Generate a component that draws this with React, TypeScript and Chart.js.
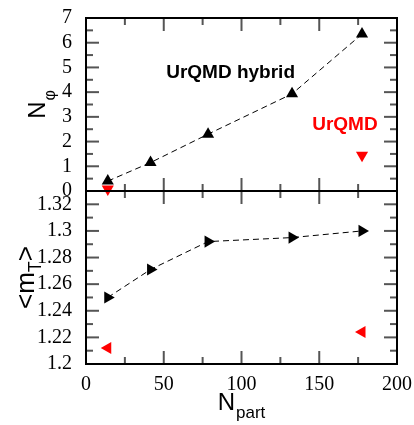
import { useEffect, useRef } from "react";
import { Chart, registerables } from "chart.js";

Chart.register(...registerables);

// ---- data ----
const npartHybrid = [14, 41.5, 78.5, 132.5, 177.5];
const nphiHybrid = [0.4, 1.15, 2.3, 3.93, 6.35];
const npartUrqmd = [14, 177.5];
const nphiUrqmd = [0.08, 1.45];
const mtHybrid = [1.25, 1.271, 1.292, 1.295, 1.3];
const mtUrqmd = [1.212, 1.224];

const xMajor = [0, 50, 100, 150, 200];
const xMinor = [25, 75, 125, 175];
const yTopMajor = [0, 1, 2, 3, 4, 5, 6, 7];
const yTopMinor = [0.5, 1.5, 2.5, 3.5, 4.5, 5.5, 6.5];
const yBotMajor = [1.2, 1.22, 1.24, 1.26, 1.28, 1.3, 1.32];
const yBotMinor = [1.21, 1.23, 1.25, 1.27, 1.29, 1.31];

const labelHybrid = "UrQMD hybrid";
const labelUrqmd = "UrQMD";

const SERIF = "'Liberation Serif', 'DejaVu Serif', serif";
const SANS = "'Liberation Sans', Arial, sans-serif";

const toXY = (xs: number[], ys: number[]) => xs.map((x, i) => ({ x, y: ys[i] }));

const framePlugin = {
  id: "frame",
  afterDatasetsDraw(chart: any) {
    const ctx: CanvasRenderingContext2D = chart.ctx;
    const sx = chart.scales.x;
    const yt = chart.scales.yTop;
    const yb = chart.scales.yBot;
    const { left: L, right: R, top: T, bottom: B } = chart.chartArea;
    const M = yt.getPixelForValue(0);
    ctx.save();
    ctx.strokeStyle = "#555";
    ctx.lineWidth = 2;
    const vt = (px: number, y0: number, dir: number, len: number) => {
      ctx.beginPath();
      ctx.moveTo(px, y0);
      ctx.lineTo(px, y0 + dir * len);
      ctx.stroke();
    };
    const ht = (py: number, x0: number, dir: number, len: number) => {
      ctx.beginPath();
      ctx.moveTo(x0, py);
      ctx.lineTo(x0 + dir * len, py);
      ctx.stroke();
    };
    const edges: [number, number][] = [
      [T, 1],
      [M, -1],
      [M, 1],
      [B, -1],
    ];
    for (const [e, d] of edges) {
      xMajor.forEach((v) => vt(sx.getPixelForValue(v), e, d, 13));
      xMinor.forEach((v) => vt(sx.getPixelForValue(v), e, d, 7));
    }
    yTopMajor.forEach((v) => {
      const p = yt.getPixelForValue(v);
      ht(p, L, 1, 13);
      ht(p, R, -1, 13);
    });
    yTopMinor.forEach((v) => {
      const p = yt.getPixelForValue(v);
      ht(p, L, 1, 7);
      ht(p, R, -1, 7);
    });
    yBotMajor.forEach((v) => {
      const p = yb.getPixelForValue(v);
      ht(p, L, 1, 13);
      ht(p, R, -1, 13);
    });
    yBotMinor.forEach((v) => {
      const p = yb.getPixelForValue(v);
      ht(p, L, 1, 7);
      ht(p, R, -1, 7);
    });

    // frame
    ctx.strokeStyle = "#000";
    ctx.lineWidth = 2;
    ctx.strokeRect(L, T, R - L, B - T);
    ctx.beginPath();
    ctx.moveTo(L, M);
    ctx.lineTo(R, M);
    ctx.stroke();

    // annotations
    ctx.font = `bold 19px ${SANS}`;
    ctx.textAlign = "center";
    ctx.textBaseline = "alphabetic";
    ctx.fillStyle = "#000";
    ctx.fillText(labelHybrid, sx.getPixelForValue(93), yt.getPixelForValue(4.56));
    ctx.fillStyle = "#ff0000";
    ctx.fillText(labelUrqmd, sx.getPixelForValue(166.5), yt.getPixelForValue(2.46));

    // titles
    ctx.fillStyle = "#000";
    ctx.textAlign = "left";
    const big = `24px ${SANS}`;
    const small = `17px ${SANS}`;
    // N_part
    ctx.font = big;
    const wN = ctx.measureText("N").width;
    ctx.font = small;
    const wPart = ctx.measureText("part").width;
    const cx = (L + R) / 2;
    let x0 = cx - (wN + 1 + wPart) / 2;
    ctx.font = big;
    ctx.fillText("N", x0, 410);
    ctx.font = small;
    ctx.fillText("part", x0 + wN + 1, 418);

    // N_phi (rotated)
    ctx.save();
    ctx.translate(45, (T + M) / 2);
    ctx.rotate(-Math.PI / 2);
    ctx.font = `16px ${SANS}`;
    const wPhi = ctx.measureText("\u03c6").width;
    ctx.font = big;
    const wN2 = ctx.measureText("N").width;
    let s = -(wN2 + 1 + wPhi) / 2;
    ctx.fillText("N", s, 0);
    ctx.font = `16px ${SANS}`;
    ctx.fillText("\u03c6", s + wN2 + 1, 10);
    ctx.restore();

    // <m_T>
    ctx.save();
    ctx.translate(34, (M + B) / 2);
    ctx.rotate(-Math.PI / 2);
    const f1 = `26px ${SANS}`;
    const f2 = `18px ${SANS}`;
    ctx.font = f1;
    const w1 = ctx.measureText("<m").width;
    const w3 = ctx.measureText(">").width;
    ctx.font = f2;
    const w2 = ctx.measureText("T").width;
    s = -(w1 + w2 + w3) / 2;
    ctx.font = f1;
    ctx.fillText("<m", s, 0);
    ctx.font = f2;
    ctx.fillText("T", s + w1, 7);
    ctx.font = f1;
    ctx.fillText(">", s + w1 + w2, 0);
    ctx.restore();

    ctx.restore();
  },
};

export default function App() {
  const ref = useRef<HTMLCanvasElement | null>(null);
  useEffect(() => {
    if (!ref.current) return;
    const pt = (rot: number, color: string) => ({
      pointStyle: "triangle" as const,
      rotation: rot,
      pointRadius: 7,
      pointHoverRadius: 7,
      pointBackgroundColor: color,
      pointBorderColor: color,
      pointBorderWidth: 0,
    });
    const chart = new Chart(ref.current, {
      type: "scatter",
      data: {
        datasets: [
          {
            label: "hybrid mT",
            data: toXY(npartHybrid, mtHybrid),
            yAxisID: "yBot",
            showLine: true,
            borderColor: "#000",
            borderWidth: 1,
            borderDash: [6, 4],
            clip: false as any,
            ...pt(90, "#000"),
          },
          {
            label: "urqmd mT",
            data: toXY(npartUrqmd, mtUrqmd),
            yAxisID: "yBot",
            showLine: false,
            clip: false as any,
            ...pt(270, "#ff0000"),
          },
          {
            label: "urqmd Nphi",
            data: toXY(npartUrqmd, nphiUrqmd),
            yAxisID: "yTop",
            showLine: false,
            clip: false as any,
            ...pt(180, "#ff0000"),
          },
          {
            label: "hybrid Nphi",
            data: toXY(npartHybrid, nphiHybrid),
            yAxisID: "yTop",
            showLine: true,
            borderColor: "#000",
            borderWidth: 1,
            borderDash: [6, 4],
            clip: false as any,
            ...pt(0, "#000"),
          },
        ],
      },
      options: {
        responsive: false,
        animation: false,
        devicePixelRatio: 1,
        layout: { padding: { left: 0, right: 17, top: 18, bottom: 0 } },
        plugins: { legend: { display: false }, tooltip: { enabled: false } },
        scales: {
          x: {
            type: "linear",
            position: "bottom",
            min: 0,
            max: 200,
            grid: { display: false },
            border: { display: false },
            ticks: {
              stepSize: 50,
              padding: 1,
              color: "#000",
              font: { family: SERIF, size: 20 },
            },
            afterFit: (s: any) => {
              s.height = 61;
            },
          },
          yBot: {
            type: "linear",
            position: "left",
            stack: "panels",
            stackWeight: 1,
            min: 1.2,
            max: 1.33,
            grid: { display: false },
            border: { display: false },
            ticks: {
              stepSize: 0.02,
              includeBounds: false,
              autoSkip: false,
              padding: 6,
              color: "#000",
              font: { family: SERIF, size: 20 },
              callback: (v: any) => String(Number(Number(v).toFixed(2))),
            },
            afterFit: (s: any) => {
              s.width = 86;
            },
          },
          yTop: {
            type: "linear",
            position: "left",
            stack: "panels",
            stackWeight: 1,
            min: 0,
            max: 7,
            grid: { display: false },
            border: { display: false },
            ticks: {
              stepSize: 1,
              autoSkip: false,
              padding: 6,
              color: "#000",
              font: { family: SERIF, size: 20 },
            },
            afterFit: (s: any) => {
              s.width = 86;
            },
          },
        },
      },
      plugins: [framePlugin],
    });
    return () => chart.destroy();
  }, []);
  return (
    <div style={{ position: "absolute", left: 0, top: 0, width: 414, height: 425, background: "#fff" }}>
      <canvas ref={ref} width={414} height={425} />
    </div>
  );
}
